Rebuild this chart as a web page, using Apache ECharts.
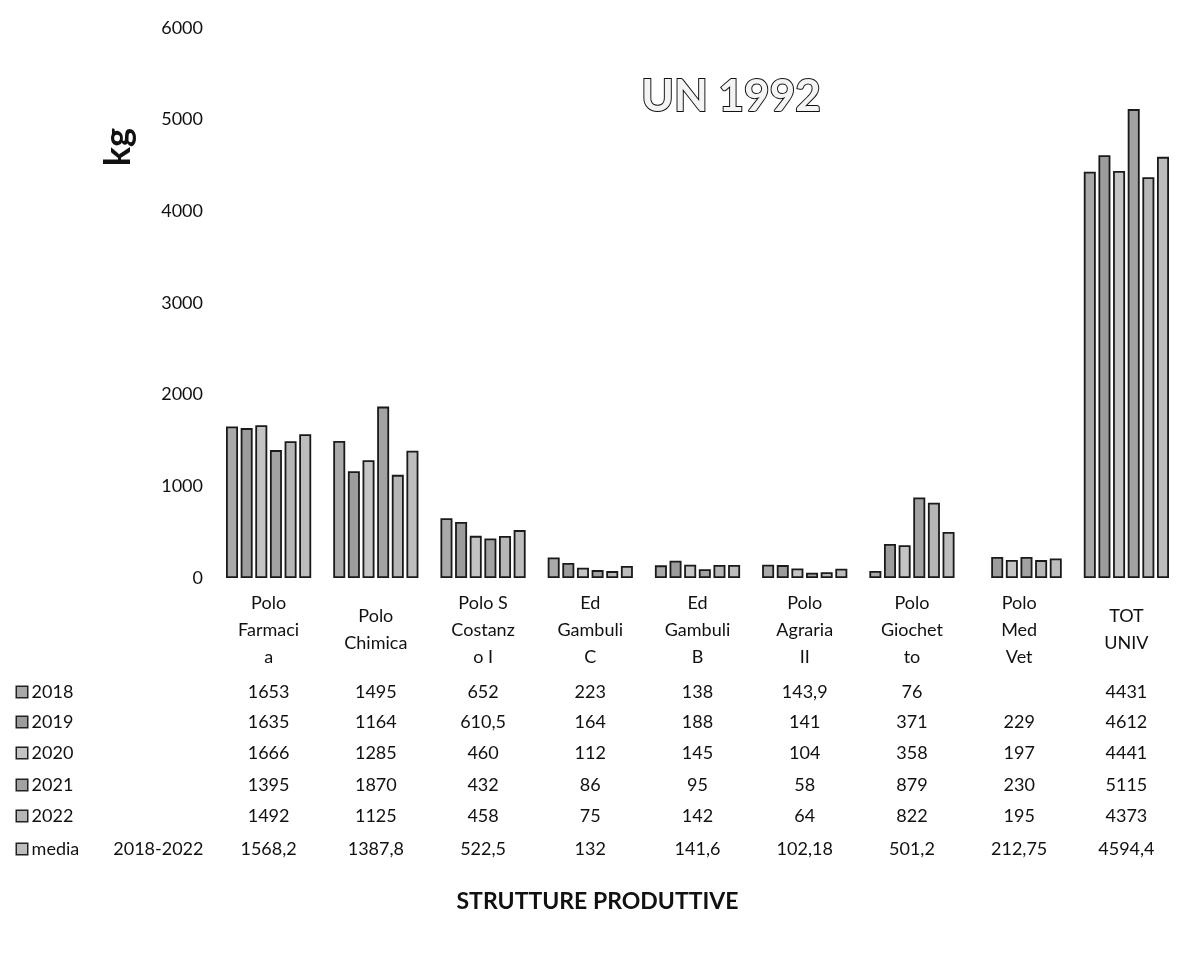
<!DOCTYPE html>
<html>
<head>
<meta charset="utf-8">
<title>UN 1992</title>
<script src="https://cdn.jsdelivr.net/npm/echarts@6/dist/echarts.min.js"></script>
<style>
  html, body { margin: 0; padding: 0; background: #fff; }
  #chart { width: 1180px; height: 960px; }
</style>
</head>
<body>
<div id="chart"></div>
<script>
  // categorie (strutture produttive)
  var categories = ['Polo\nFarmaci\na', 'Polo\nChimica', 'Polo S\nCostanz\no I', 'Ed\nGambuli\nC', 'Ed\nGambuli\nB',
    'Polo\nAgraria\nII', 'Polo\nGiochet\nto', 'Polo\nMed\nVet', 'TOT\nUNIV']
  var yTicks = [0, 1000, 2000, 3000, 4000, 5000, 6000]

  // valori in kg per anno (null = cella vuota)
  var v2018 = [1653, 1495, 652, 223, 138, 143.9, 76, null, 4431]
  var v2019 = [1635, 1164, 610.5, 164, 188, 141, 371, 229, 4612]
  var v2020 = [1666, 1285, 460, 112, 145, 104, 358, 197, 4441]
  var v2021 = [1395, 1870, 432, 86, 95, 58, 879, 230, 5115]
  var v2022 = [1492, 1125, 458, 75, 142, 64, 822, 195, 4373]
  var vMedia = [1568.2, 1387.8, 522.5, 132, 141.6, 102.18, 501.2, 212.75, 4594.4]

  var seriesNames = ['2018', '2019', '2020', '2021', '2022', 'media{sp|}2018-2022']
  var seriesData = [v2018, v2019, v2020, v2021, v2022, vMedia]
  var fills = ['#a9a9a9', '#9c9c9c', '#c4c4c4', '#a2a2a2', '#b6b6b6', '#bdbdbd']

  var font = 'Lato, "Open Sans", sans-serif'
  var axisY = 578 // y della linea dello zero
  var rowY = [692, 722, 753, 785, 816, 849]

  function fmt(v) {
    if (v === null || v === undefined) return ''
    return String(v).replace('.', ',')
  }

  var chart = echarts.init(document.getElementById('chart'))

  // asse principale con i nomi delle categorie
  var xAxes = [{
    type: 'category',
    data: categories,
    gridIndex: 0,
    position: 'bottom',
    axisLine: { show: false },
    axisTick: { show: false },
    axisLabel: {
      interval: 0,
      margin: 52,
      verticalAlign: 'middle',
      lineHeight: 27,
      fontSize: 18,
      color: '#111',
      fontFamily: font
    },
    name: 'STRUTTURE PRODUTTIVE',
    nameLocation: 'middle',
    nameGap: 312,
    nameTextStyle: {
      fontSize: 23,
      fontWeight: 'bold',
      color: '#111',
      fontFamily: font,
      padding: [0, 200, 0, 0]
    }
  }]

  // una riga della tabella per ogni serie
  seriesData.forEach(function (arr, i) {
    xAxes.push({
      type: 'category',
      data: categories,
      gridIndex: 0,
      position: 'bottom',
      offset: rowY[i] - axisY,
      axisLine: { show: false },
      axisTick: { show: false },
      axisLabel: {
        interval: 0,
        margin: 0,
        verticalAlign: 'middle',
        fontSize: 18,
        color: '#111',
        fontFamily: font,
        formatter: function (val, idx) { return fmt(arr[idx]) }
      },
      name: '{box|} ' + seriesNames[i],
      nameLocation: 'start',
      nameGap: 198,
      nameTextStyle: {
        align: 'left',
        verticalAlign: 'middle',
        fontSize: 18,
        color: '#111',
        fontFamily: font,
        rich: {
          box: {
            width: 10,
            height: 10,
            backgroundColor: fills[i],
            borderColor: '#222',
            borderWidth: 1.5
          },
          sp: { width: 34 }
        }
      }
    })
  })

  var series = seriesData.map(function (arr, i) {
    return {
      name: seriesNames[i],
      type: 'bar',
      xAxisIndex: 0,
      data: arr,
      barWidth: 12,
      barGap: '22%',
      itemStyle: {
        color: fills[i],
        borderColor: '#1a1a1a',
        borderWidth: 1.8
      }
    }
  })

  chart.setOption({
    backgroundColor: '#fff',
    animation: false,
    title: {
      text: 'UN 1992',
      left: 726,
      top: 70,
      textAlign: 'center',
      textStyle: {
        fontSize: 44,
        fontWeight: 'bold',
        color: '#f4f4f4',
        textBorderColor: '#111',
        textBorderWidth: 2,
        fontFamily: font
      }
    },
    graphic: [{
      type: 'text',
      left: 100,
      top: 128,
      rotation: Math.PI / 2,
      style: {
        text: 'kg',
        fontSize: 36,
        fontWeight: 'bold',
        fill: '#111',
        fontFamily: font
      }
    }],
    grid: {
      left: 215,
      top: 28,
      width: 970,
      height: axisY - 28
    },
    xAxis: xAxes,
    yAxis: {
      type: 'value',
      min: yTicks[0],
      max: yTicks[yTicks.length - 1],
      interval: 1000,
      splitLine: { show: false },
      axisLine: { show: false },
      axisTick: { show: false },
      axisLabel: {
        margin: 12,
        fontSize: 18,
        color: '#111',
        fontFamily: font,
        formatter: function (v) { return String(v) }
      }
    },
    series: series
  })
</script>
</body>
</html>
